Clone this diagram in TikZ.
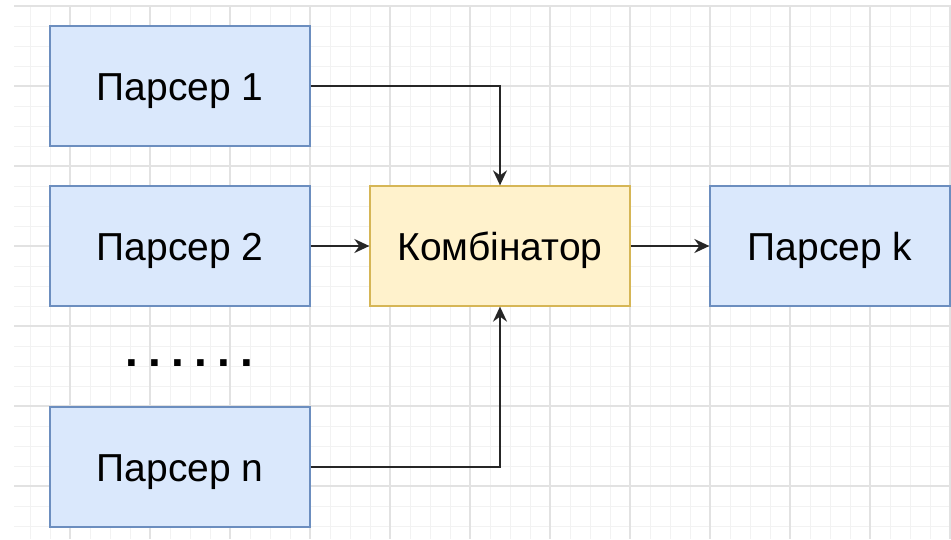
\documentclass[tikz,border=0pt]{standalone}
\usepackage{fontspec}
\setmainfont{Liberation Sans}
\usetikzlibrary{arrows.meta}
\definecolor{bluefill}{HTML}{DAE8FC}
\definecolor{bluedraw}{HTML}{6C8EBF}
\definecolor{yellowfill}{HTML}{FFF2CC}
\definecolor{yellowdraw}{HTML}{D6B656}
\definecolor{gridminor}{HTML}{F2F2F2}
\definecolor{gridmajor}{HTML}{E2E2E2}
\tikzset{
  box/.style={draw, line width=1.3pt, minimum width=260pt, minimum height=120pt,
    inner sep=0pt, text height=28pt, text depth=0pt, font=\fontsize{39}{39}\selectfont},
  bluebox/.style={box, fill=bluefill, draw=bluedraw},
  yellowbox/.style={box, fill=yellowfill, draw=yellowdraw},
  conn/.style={line width=1.9pt, draw=black!85, -{Stealth[length=15pt, width=14pt, inset=5pt]}},
}
\newcommand{\onedot}{\makebox[23pt]{.}}
\begin{document}
\begin{tikzpicture}[x=1pt, y=-1pt]
\useasboundingbox (0,0) rectangle (951,539);
\fill[white] (0,0) rectangle (951,539);
% grid
\foreach \x in {30,50,...,950} {\draw[gridminor, line width=1pt] (\x,7) -- (\x,539);}
\foreach \y in {26,46,...,526} {\draw[gridminor, line width=1pt] (14,\y) -- (951,\y);}
\foreach \x in {70,150,...,950} {\draw[gridmajor, line width=1.2pt] (\x,7) -- (\x,539);}
\foreach \y in {6,86,...,486} {\draw[gridmajor, line width=1.2pt] (14,\y) -- (951,\y);}
% nodes
\node[bluebox] (p1) at (180,86) {Парсер 1};
\node[bluebox] (p2) at (180,246) {Парсер 2};
\node[bluebox] (pn) at (180,467) {Парсер n};
\node[yellowbox] (comb) at (500,246) {Комбінатор};
\node[bluebox, minimum width=240pt] (pk) at (830,246) {Парсер k};
\node[font=\fontsize{46}{46}\selectfont\bfseries, inner sep=0pt, anchor=base] (dots) at (189,366) {\onedot\onedot\onedot\onedot\onedot\onedot};
% connectors
\draw[conn] (p1.east) -| (comb.north);
\draw[conn] (pn.east) -| (comb.south);
\draw[conn] (p2.east) -- (comb.west);
\draw[conn] (comb.east) -- (pk.west);
\end{tikzpicture}
\end{document}
